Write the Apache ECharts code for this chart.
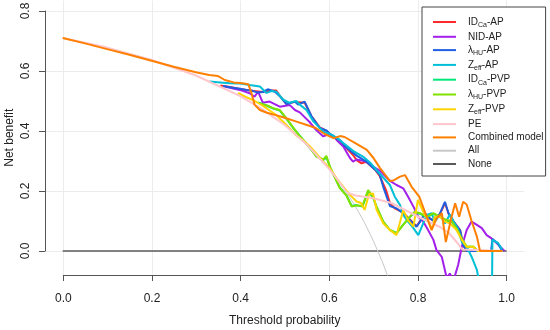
<!DOCTYPE html>
<html>
<head>
<meta charset="utf-8">
<script src="https://cdn.jsdelivr.net/npm/echarts@6/dist/echarts.min.js"></script>
<style>html,body{margin:0;padding:0;background:#fff}#c{width:550px;height:330px}</style>
</head>
<body>
<div id="c"></div>
<script>
// ---- tick labels ----
const thresholdTicks = [0, 0.2, 0.4, 0.6, 0.8, 1.0];
const netBenefitTicks = [0, 0.2, 0.4, 0.6, 0.8];

// ---- series names (legend order) ----
const seriesNames = ['IDCa-AP', 'NID-AP', 'λHU-AP', 'Zeff-AP', 'IDCa-PVP', 'λHU-PVP', 'Zeff-PVP', 'PE', 'Combined model', 'All', 'None'];

// ---- data: [threshold probability, net benefit] ----
const idcaAP = [[.355,.552],[.38,.546],[.399,.54],[.414,.537],[.43,.533],[.451,.53],[.466,.535],[.481,.535],[.489,.517],[.504,.49],[.523,.497],[.545,.494],[.56,.45],[.579,.412],[.594,.4],[.609,.382],[.624,.368],[.639,.343],[.654,.32],[.662,.303],[.673,.292],[.684,.297],[.703,.272],[.714,.25],[.729,.2],[.737,.16],[.748,.142],[.767,.128],[.782,.105],[.797,.083],[.805,.1],[.816,.124],[.827,.108],[.838,.1],[.85,.124],[.861,.16],[.869,.125],[.88,.1],[.895,.07],[.902,.02],[.91,0],[.99,0]];
const nidAP = [[.365,.548],[.384,.542],[.399,.537],[.421,.526],[.432,.514],[.44,.531],[.451,.494],[.466,.498],[.489,.481],[.511,.487],[.523,.47],[.534,.462],[.556,.43],[.571,.403],[.587,.382],[.6,.39],[.609,.385],[.617,.37],[.632,.348],[.647,.31],[.654,.298],[.662,.305],[.684,.298],[.699,.281],[.714,.268],[.737,.234],[.752,.22],[.767,.209],[.778,.181],[.79,.148],[.801,.114],[.812,.098],[.823,.07],[.835,.037],[.842,.003],[.854,-.02],[.865,-.09],[.872,-.075],[.88,-.1],[.891,-.045],[.899,.014],[.91,.07],[.921,.098],[.933,.087],[.944,.076],[.955,.053],[.966,.042],[.978,.026],[.989,.009],[.995,0]];
const lhuAP = [[.361,.55],[.38,.545],[.399,.541],[.414,.537],[.425,.535],[.44,.528],[.451,.53],[.462,.539],[.478,.531],[.489,.516],[.504,.49],[.515,.495],[.523,.498],[.53,.488],[.545,.498],[.56,.45],[.579,.41],[.594,.402],[.609,.38],[.624,.37],[.639,.345],[.662,.318],[.684,.298],[.703,.272],[.714,.255],[.722,.214],[.737,.15],[.752,.142],[.767,.126],[.782,.103],[.797,.081],[.805,.098],[.816,.126],[.827,.109],[.838,.098],[.85,.126],[.861,.164],[.869,.126],[.88,.098],[.895,.07],[.902,.02],[.91,0],[.965,0],[.968,.04],[.98,.026],[.99,0]];
const zeffAP = [[.331,.565],[.355,.562],[.376,.559],[.4,.558],[.421,.553],[.444,.548],[.459,.527],[.47,.533],[.481,.531],[.496,.505],[.511,.494],[.526,.5],[.534,.488],[.549,.47],[.564,.433],[.587,.398],[.602,.39],[.617,.378],[.632,.36],[.654,.334],[.677,.314],[.692,.295],[.707,.27],[.722,.245],[.737,.22],[.748,.181],[.76,.153],[.767,.12],[.778,.098],[.79,.076],[.801,.053],[.812,.092],[.82,.12],[.831,.126],[.838,.098],[.85,.122],[.861,.092],[.872,.122],[.876,.118],[.891,.07],[.899,.031],[.91,.014],[.921,-.019],[.933,-.063],[.95,-.2],[.966,-.3],[.968,.037],[.981,.026],[.99,.005]];
const idcaPVP = [[.44,.495],[.459,.485],[.474,.475],[.489,.468],[.504,.44],[.519,.41],[.541,.372],[.556,.345],[.571,.318],[.587,.303],[.594,.312],[.602,.28],[.613,.246],[.624,.212],[.639,.186],[.651,.15],[.662,.153],[.675,.148],[.688,.198],[.699,.178],[.707,.146],[.722,.098],[.737,.07],[.752,.06],[.767,.088],[.782,.113],[.793,.128],[.805,.124],[.82,.113],[.835,.124],[.85,.113],[.865,.1],[.876,.098],[.887,.075],[.899,.04],[.91,.014],[.925,.014],[.935,0],[.99,0]];
const lhuPVP = [[.444,.492],[.46,.485],[.474,.476],[.489,.47],[.504,.442],[.519,.412],[.53,.39],[.541,.37],[.556,.345],[.571,.315],[.587,.305],[.594,.317],[.602,.28],[.613,.245],[.624,.21],[.639,.185],[.651,.148],[.662,.152],[.675,.15],[.688,.203],[.699,.18],[.707,.148],[.722,.098],[.737,.07],[.752,.059],[.767,.087],[.782,.114],[.793,.131],[.805,.126],[.82,.114],[.835,.126],[.85,.114],[.865,.103],[.876,.1],[.887,.075],[.899,.04],[.91,.014],[.925,.014],[.935,0],[.99,0]];
const zeffPVP = [[.395,.527],[.41,.515],[.429,.503],[.444,.49],[.459,.476],[.481,.453],[.504,.42],[.526,.385],[.541,.37],[.556,.35],[.571,.325],[.587,.298],[.602,.275],[.617,.242],[.632,.214],[.647,.187],[.662,.165],[.672,.16],[.68,.137],[.69,.19],[.699,.192],[.707,.137],[.722,.092],[.737,.07],[.752,.053],[.763,.114],[.767,.137],[.778,.103],[.79,.081],[.8,.17],[.812,.131],[.823,.103],[.831,.07],[.838,.114],[.85,.114],[.861,.098],[.872,.092],[.887,.07],[.899,.037],[.91,.014],[.925,.014],[.935,0],[.99,0]];
const pe = [[0,.71],[.1,.678],[.2,.637],[.3,.585],[.4,.516],[.45,.472],[.5,.42],[.55,.355],[.6,.274],[.62,.236],[.64,.195],[.66,.185],[.7,.176],[.74,.16],[.78,.13],[.82,.1],[.85,.08],[.87,.06],[.89,.025],[.9,.005],[.99,0]];
const combined = [[0,.71],[.05,.692],[.1,.673],[.15,.654],[.2,.634],[.25,.614],[.3,.596],[.33,.587],[.35,.583],[.365,.57],[.385,.562],[.405,.559],[.418,.556],[.425,.527],[.432,.488],[.444,.47],[.46,.461],[.48,.453],[.5,.444],[.525,.432],[.55,.42],[.57,.41],[.59,.39],[.61,.376],[.625,.383],[.635,.38],[.66,.359],[.685,.337],[.7,.31],[.714,.278],[.737,.233],[.745,.235],[.76,.248],[.771,.253],[.786,.214],[.803,.181],[.82,.114],[.831,.07],[.842,.109],[.854,.126],[.863,.03],[.876,.114],[.884,.159],[.893,.114],[.902,.164],[.91,.155],[.921,.1],[.933,.048],[.94,0],[.99,0]];
const treatAll = [[0,.71],[.1,.678],[.2,.638],[.3,.586],[.4,.517],[.45,.473],[.5,.42],[.55,.356],[.6,.275],[.62,.237],[.64,.194],[.66,.147],[.68,.094],[.7,.033],[.72,-.036],[.74,-.115]];
const treatNone = [[0,0],[1,0]];

const seriesData = [idcaAP, nidAP, lhuAP, zeffAP, idcaPVP, lhuPVP, zeffPVP, pe, combined, treatAll, treatNone];
const seriesColors = ['#FF2A2A', '#A31FEA', '#1F5FE0', '#00BFD6', '#00E87A', '#80E000', '#FFD500', '#FFC6CC', '#FF8000', '#C8C8C8', '#5A5A5A'];
const seriesWidths = [2, 2, 2, 2, 2, 2, 2, 2, 2, 1, 1.5];

const legendLabels = {
  'IDCa-AP': '{n|ID}{s|Ca}{n|-AP}',
  'NID-AP': '{n|NID-AP}',
  'λHU-AP': '{n|λ}{s|HU}{n|-AP}',
  'Zeff-AP': '{n|Z}{s|eff}{n|-AP}',
  'IDCa-PVP': '{n|ID}{s|Ca}{n|-PVP}',
  'λHU-PVP': '{n|λ}{s|HU}{n|-PVP}',
  'Zeff-PVP': '{n|Z}{s|eff}{n|-PVP}',
  'PE': '{n|PE}',
  'Combined model': '{n|Combined model}',
  'All': '{n|All}',
  'None': '{n|None}'
};

const FONT = "'Liberation Sans', Arial, Helvetica, sans-serif";
const drawOrder = [10, 9, 0, 1, 2, 3, 4, 5, 6, 7, 8];

const series = drawOrder.map(i => ({
  name: seriesNames[i],
  type: 'line',
  xAxisIndex: 0,
  yAxisIndex: 0,
  data: seriesData[i],
  symbol: 'none',
  showSymbol: false,
  clip: true,
  color: seriesColors[i],
  itemStyle: { color: seriesColors[i] },
  lineStyle: { color: seriesColors[i], width: seriesWidths[i] },
  z: 2
}));

const chart = echarts.init(document.getElementById('c'), null, { renderer: 'canvas' });
chart.setOption({
  animation: false,
  backgroundColor: '#ffffff',
  textStyle: { fontFamily: FONT },
  grid: [
    { left: 45, right: 25.6, top: 0.5, bottom: 55, containLabel: false, outerBoundsMode: 'none' },
    { left: 63.3, right: 43.3, top: 0.5, bottom: 55, containLabel: false, outerBoundsMode: 'none' },
    { left: 45, right: 25.6, top: 11, bottom: 79, containLabel: false, outerBoundsMode: 'none' }
  ],
  xAxis: [
    { gridIndex: 0, type: 'value', min: -0.04, max: 1.04, show: true,
      axisLine: { show: false, onZero: false }, axisTick: { show: false }, axisLabel: { show: false }, splitLine: { show: false },
      name: 'Threshold probability', nameLocation: 'middle', nameGap: 40,
      nameTextStyle: { fontSize: 12, color: '#222', fontFamily: FONT } },
    { gridIndex: 1, type: 'value', min: 0, max: 1, interval: 0.2, position: 'bottom',
      axisLine: { show: true, onZero: false, lineStyle: { color: '#555', width: 1 } },
      axisTick: { show: true, inside: false, length: 6, lineStyle: { color: '#555' } },
      axisLabel: { show: true, fontSize: 12, color: '#222', margin: 18, fontFamily: FONT,
        formatter: v => thresholdTicks.find(t => Math.abs(t - v) < 1e-9).toFixed(1) },
      splitLine: { show: true, lineStyle: { color: '#ECECEC', width: 1 } } },
    { gridIndex: 2, type: 'value', min: 0, max: 1, show: false, axisLine: { onZero: false } }
  ],
  yAxis: [
    { gridIndex: 0, type: 'value', min: -0.08, max: 0.835, show: true,
      axisLine: { show: false, onZero: false }, axisTick: { show: false }, axisLabel: { show: false }, splitLine: { show: false },
      name: 'Net benefit', nameLocation: 'middle', nameGap: 29,
      nameTextStyle: { fontSize: 12, color: '#222', fontFamily: FONT } },
    { gridIndex: 1, type: 'value', min: -0.08, max: 0.835, show: false, axisLine: { onZero: false } },
    { gridIndex: 2, type: 'value', min: 0, max: 0.8, interval: 0.2, position: 'left',
      axisLine: { show: true, onZero: false, lineStyle: { color: '#555', width: 1 } },
      axisTick: { show: true, inside: false, length: 6, lineStyle: { color: '#555' } },
      axisLabel: { show: true, rotate: 90, fontSize: 12, color: '#222', margin: 13, fontFamily: FONT,
        formatter: v => netBenefitTicks.find(t => Math.abs(t - v) < 1e-9).toFixed(1) },
      splitLine: { show: true, lineStyle: { color: '#ECECEC', width: 1 } } }
  ],
  legend: {
    data: seriesNames.map(n => ({ name: n, icon: 'rect' })),
    orient: 'vertical',
    left: 422,
    top: 7,
    padding: [10, 2, 7, 11],
    itemWidth: 23,
    itemHeight: 2,
    itemGap: 3.3,
    borderColor: '#444',
    borderWidth: 1,
    borderRadius: 0,
    backgroundColor: '#fff',
    formatter: name => legendLabels[name],
    textStyle: {
      fontFamily: FONT,
      fontSize: 10,
      color: '#222',
      padding: [0, 0, 0, 7],
      rich: {
        n: { fontSize: 10, color: '#222', lineHeight: 13, verticalAlign: 'middle', fontFamily: FONT },
        s: { fontSize: 7, color: '#222', lineHeight: 9, verticalAlign: 'bottom', fontFamily: FONT }
      }
    }
  },
  series: series
});
</script>
</body>
</html>
